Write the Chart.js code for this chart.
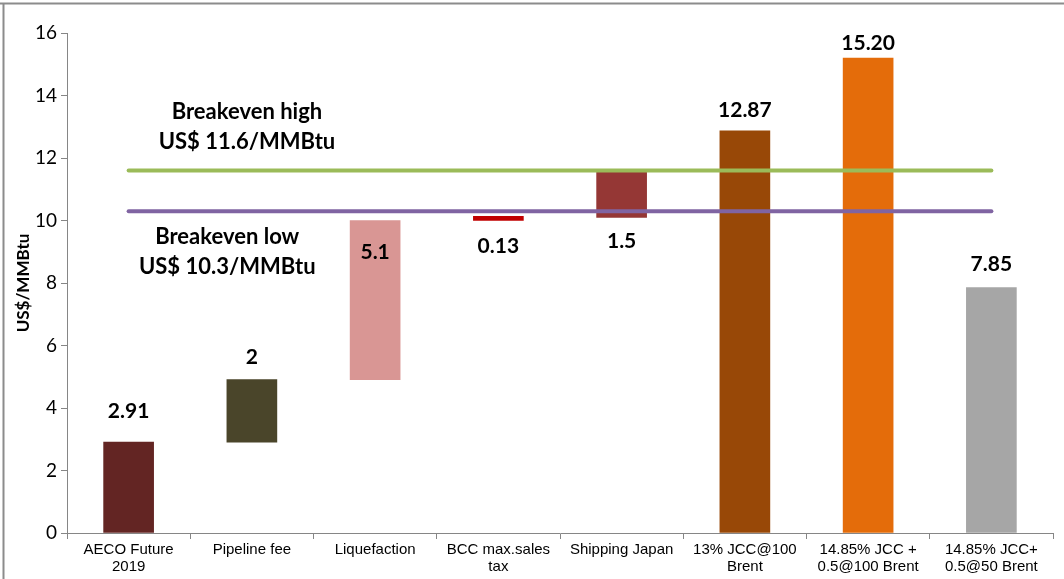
<!DOCTYPE html>
<html>
<head>
<meta charset="utf-8">
<script src="https://cdn.jsdelivr.net/npm/chart.js@4.4.1/dist/chart.umd.min.js"></script>
<style>
  html, body { margin: 0; padding: 0; background: #fff; }
  #wrap { width: 1064px; height: 579px; position: relative; }
</style>
</head>
<body>
<div id="wrap"><canvas id="c" width="1064" height="579"></canvas></div>
<script>
// ---- data ----
const categories = [
  ["AECO Future", "2019"],
  "Pipeline fee",
  "Liquefaction",
  ["BCC max.sales", "tax"],
  "Shipping Japan",
  ["13% JCC@100", "Brent"],
  ["14.85% JCC +", "0.5@100 Brent"],
  ["14.85% JCC+", "0.5@50 Brent"]
];
const barBase = [0, 2.91, 4.91, 10.0, 10.1, 0, 0, 0];
const barTop  = [2.91, 4.91, 10.0, 10.13, 11.55, 12.87, 15.20, 7.85];
const valueLabels = ["2.91", "2", "5.1", "0.13", "1.5", "12.87", "15.20", "7.85"];
const breakevenHigh = [11.6, 11.6, 11.6, 11.6, 11.6, 11.6, 11.6, 11.6];
const breakevenLow  = [10.3, 10.3, 10.3, 10.3, 10.3, 10.3, 10.3, 10.3];
const yTicks = [0, 2, 4, 6, 8, 10, 12, 14, 16];
const annotationHigh = ["Breakeven high", "US$ 11.6/MMBtu"];
const annotationLow  = ["Breakeven low", "US$ 10.3/MMBtu"];

// ---- styles ----
const barColors = ["#632523", "#4a452a", "#d99694", "#c00000", "#953735", "#984807", "#e46c0a", "#a6a6a6"];
// label placement: [anchor, pixel offset]
const labelPlacement = [["top", -31], ["top", -22], ["top", 32], ["bottom", 26], ["bottom", 24], ["top", -21], ["top", -15], ["top", -23]];

const floating = barBase.map((b, i) => [b, barTop[i]]);

const labelsPlugin = {
  id: "labelsPlugin",
  afterDatasetsDraw(chart) {
    const ctx = chart.ctx;
    const meta = chart.getDatasetMeta(2);
    const y = chart.scales.y;
    ctx.save();
    ctx.fillStyle = "#000";
    ctx.textAlign = "center";
    ctx.textBaseline = "middle";
    ctx.font = "bold 21px Lato";
    meta.data.forEach((bar, i) => {
      const [anchor, off] = labelPlacement[i];
      const ref = anchor === "top" ? y.getPixelForValue(barTop[i]) : y.getPixelForValue(barBase[i]);
      ctx.fillText(valueLabels[i], bar.x, ref + off);
    });
    // breakeven annotations
    const xs = chart.scales.x;
    const cw = (xs.right - xs.left) / categories.length;
    ctx.font = "bold 22px Lato";
    const hx = xs.left + cw * 1.46;
    ctx.fillText(annotationHigh[0], hx, y.getPixelForValue(13.47));
    ctx.fillText(annotationHigh[1], hx, y.getPixelForValue(12.51));
    const lx = xs.left + cw * 1.30;
    ctx.fillText(annotationLow[0], lx, y.getPixelForValue(9.47));
    ctx.fillText(annotationLow[1], lx, y.getPixelForValue(8.51));
    ctx.restore();
  }
};

const framePlugin = {
  id: "framePlugin",
  beforeDraw(chart) {
    const ctx = chart.ctx;
    ctx.save();
    ctx.fillStyle = "#fff";
    ctx.fillRect(0, 0, chart.width, chart.height);
    ctx.strokeStyle = "#8c8c8c";
    ctx.lineWidth = 2;
    ctx.beginPath();
    ctx.moveTo(0, 3.5);
    ctx.lineTo(chart.width, 3.5);
    ctx.moveTo(3.5, 3.5);
    ctx.lineTo(3.5, chart.height);
    ctx.stroke();
    ctx.restore();
  }
};

new Chart(document.getElementById("c"), {
  data: {
    labels: categories,
    datasets: [
      { type: "line", data: breakevenHigh, borderColor: "#9bbb59", borderWidth: 4, pointRadius: 0, order: 1, borderCapStyle: "round" },
      { type: "line", data: breakevenLow, borderColor: "#8064a2", borderWidth: 4, pointRadius: 0, order: 1, borderCapStyle: "round" },
      { type: "bar", data: floating, backgroundColor: barColors, borderWidth: 0, barThickness: 50, order: 2 }
    ]
  },
  options: {
    responsive: false,
    animation: false,
    events: [],
    layout: { padding: { top: 33, right: 11, left: 0, bottom: 0 } },
    plugins: { legend: { display: false }, tooltip: { enabled: false } },
    scales: {
      x: {
        offset: true,
        grid: { display: true, drawOnChartArea: false, offset: true, tickLength: 6, color: "#868686", lineWidth: 1 },
        border: { display: true, color: "#868686", width: 1 },
        ticks: { color: "#000", font: { family: "Liberation Sans", size: 15, lineHeight: 1.13 }, padding: 2, maxRotation: 0, autoSkip: false },
        afterFit(s) { s.height = 46; }
      },
      y: {
        min: 0, max: 16,
        afterBuildTicks(s) { s.ticks = yTicks.map(v => ({ value: v })); },
        grid: { display: true, drawOnChartArea: false, tickLength: 6, color: "#868686", lineWidth: 1 },
        border: { display: true, color: "#868686", width: 1 },
        ticks: { color: "#000", font: { family: "Lato", size: 19 }, padding: 4 },
        title: { display: true, text: "US$/MMBtu", color: "#000", font: { family: "Lato", size: 17, weight: "bold" }, padding: { top: 13, bottom: 0 } },
        afterFit(s) { s.width = 67; }
      }
    }
  },
  plugins: [framePlugin, labelsPlugin]
});
</script>
</body>
</html>
